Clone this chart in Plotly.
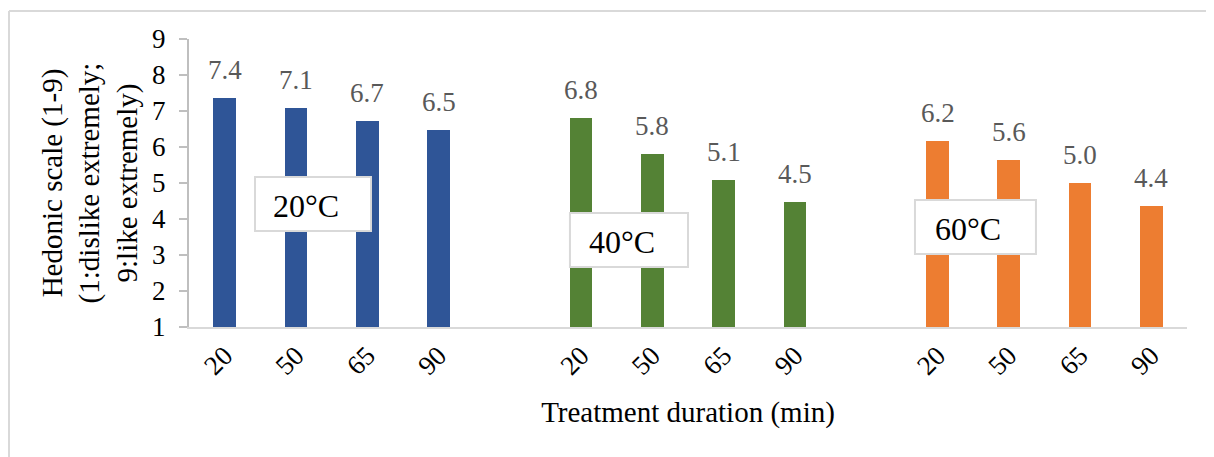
import plotly.graph_objects as go

# ---- data ----
durations = ["20", "50", "65", "90"]
groups = ["20°C", "40°C", "60°C"]
values_20 = [7.37, 7.09, 6.72, 6.46]
values_40 = [6.81, 5.81, 5.08, 4.46]
values_60 = [6.17, 5.64, 5.01, 4.37]
colors = ["#2F5597", "#548235", "#ED7D31"]

series = [values_20, values_40, values_60]
FONT = "Liberation Serif"

fig = go.Figure()
tickvals, ticktext = [], []
annotations = []
for g, vals in enumerate(series):
    xs = [g * 5 + i for i in range(len(vals))]
    tickvals += xs
    ticktext += durations
    fig.add_trace(go.Bar(x=xs, y=[v - 1 for v in vals], base=1, width=0.32,
                         marker=dict(color=colors[g], line=dict(width=0)),
                         name=groups[g], showlegend=False, hoverinfo="skip"))
    for x, v in zip(xs, vals):
        annotations.append(dict(x=x, y=v, xref="x", yref="y", text=f"{v:.1f}",
                                showarrow=False, yanchor="bottom", yshift=11,
                                font=dict(family=FONT, size=27, color="#595959")))

# group label boxes
boxes = [(0.426, 2.053, 3.667, 5.167, 1.14, 4.36),
         (4.844, 6.5, 2.667, 4.167, 5.57, 3.36),
         (9.684, 11.381, 3.028, 4.528, 10.43, 3.72)]
shapes = []
for (x0, x1, y0, y1, tx, ty), lab in zip(boxes, groups):
    shapes.append(dict(type="rect", xref="x", yref="y", x0=x0, x1=x1, y0=y0, y1=y1,
                       fillcolor="white", line=dict(color="#D9D9D9", width=2), layer="above"))
    annotations.append(dict(x=tx, y=ty, xref="x", yref="y", text=lab, showarrow=False,
                            font=dict(family=FONT, size=32, color="black")))

# outer frame (top and left edges), in pixel offsets from plot area
PW, PH = 998, 288
fx = -180 / PW
fy = 1 + 28 / PH
shapes.append(dict(type="line", xref="paper", yref="paper", x0=fx, x1=1.1,
                   y0=fy, y1=fy, line=dict(color="#D9D9D9", width=2)))
shapes.append(dict(type="line", xref="paper", yref="paper", x0=fx, x1=fx,
                   y0=fy, y1=-0.5, line=dict(color="#D9D9D9", width=2)))

fig.update_layout(
    width=1206, height=449,
    margin=dict(l=181, r=27, t=31, b=130),
    paper_bgcolor="white", plot_bgcolor="white",
    font=dict(family=FONT, color="black"),
    shapes=shapes, annotations=annotations,
    bargap=0,
)
fig.update_xaxes(range=[-0.5, 13.5], tickvals=tickvals, ticktext=ticktext,
                 tickangle=-45, tickfont=dict(family=FONT, size=27, color="black"),
                 showline=True, linecolor="#D9D9D9", linewidth=2, ticks="",
                 showgrid=False, zeroline=False,
                 title=dict(text="Treatment duration (min)",
                            font=dict(family=FONT, size=29, color="black"), standoff=22))
fig.update_yaxes(range=[1, 9], dtick=1, tick0=1,
                 tickfont=dict(family=FONT, size=27, color="black"),
                 showline=True, linecolor="#BFBFBF", linewidth=2,
                 ticks="outside", ticklen=8, tickcolor="#BFBFBF", tickwidth=2,
                 ticklabelstandoff=8,
                 showgrid=False, zeroline=False,
                 title=dict(text="Hedonic scale (1-9)<br>(1:dislike extremely;<br>9:like extremely)",
                            font=dict(family=FONT, size=29, color="black"), standoff=6))

fig.write_html("out.html")
